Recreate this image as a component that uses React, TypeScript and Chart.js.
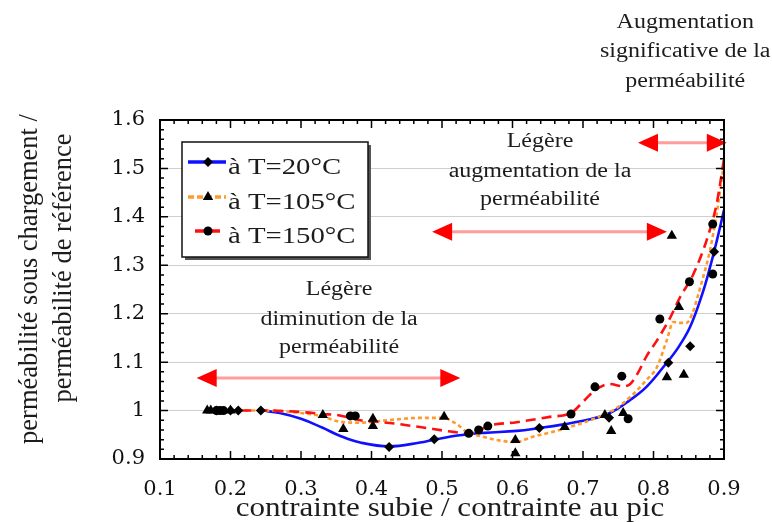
import React, { useEffect, useRef } from "react";
import { Chart, registerables } from "chart.js";

Chart.register(...registerables);

// ---------- data ----------
const xMin = 0.1;
const xMax = 0.9;
const yMin = 0.9;
const yMax = 1.6;
const tickStep = 0.1;
const minorStep = 0.02;

// fitted curves
const curve20X = [0.245, 0.27, 0.3, 0.33, 0.355, 0.384, 0.425, 0.469, 0.489, 0.525, 0.56, 0.606, 0.638, 0.67, 0.71, 0.738, 0.767, 0.79, 0.814, 0.835, 0.852, 0.869, 0.88, 0.889, 0.9];
const curve20Y = [1.0, 0.995, 0.983, 0.965, 0.948, 0.934, 0.926, 0.934, 0.94, 0.949, 0.954, 0.958, 0.964, 0.971, 0.982, 0.995, 1.022, 1.049, 1.09, 1.13, 1.173, 1.24, 1.295, 1.346, 1.414];

const curve105X = [0.17, 0.25, 0.3, 0.33, 0.355, 0.384, 0.422, 0.469, 0.501, 0.521, 0.535, 0.558, 0.582, 0.604, 0.629, 0.657, 0.69, 0.71, 0.743, 0.767, 0.79, 0.805, 0.819, 0.828, 0.838, 0.847, 0.855, 0.862, 0.869, 0.88, 0.89, 0.9];
const curve105Y = [1.0, 1.0, 0.995, 0.988, 0.977, 0.975, 0.98, 0.985, 0.985, 0.972, 0.956, 0.946, 0.938, 0.935, 0.946, 0.956, 0.97, 0.98, 1.001, 1.028, 1.063, 1.09, 1.146, 1.183, 1.181, 1.181, 1.2, 1.232, 1.268, 1.33, 1.41, 1.51];

const curve150X = [0.17, 0.25, 0.3, 0.331, 0.355, 0.384, 0.422, 0.469, 0.516, 0.54, 0.552, 0.565, 0.606, 0.653, 0.683, 0.7, 0.717, 0.738, 0.757, 0.767, 0.778, 0.79, 0.805, 0.823, 0.838, 0.856, 0.877, 0.89, 0.9];
const curve150Y = [1.0, 1.0, 0.997, 0.993, 0.99, 0.98, 0.975, 0.966, 0.956, 0.953, 0.958, 0.968, 0.976, 0.987, 0.995, 1.018, 1.042, 1.055, 1.05, 1.055, 1.078, 1.112, 1.145, 1.19, 1.235, 1.28, 1.359, 1.43, 1.52];

// measured points
const pts20X = [0.18, 0.2, 0.211, 0.243, 0.425, 0.489, 0.638, 0.737, 0.821, 0.852, 0.886];
const pts20Y = [1.0, 1.0, 1.0, 1.0, 0.925, 0.941, 0.964, 0.985, 1.099, 1.133, 1.328];

const pts105X = [0.167, 0.172, 0.2, 0.331, 0.36, 0.402, 0.402, 0.503, 0.604, 0.604, 0.674, 0.731, 0.74, 0.757, 0.819, 0.843, 0.826, 0.836];
const pts105Y = [1.0, 1.0, 1.0, 0.991, 0.962, 0.983, 0.968, 0.987, 0.939, 0.912, 0.966, 0.991, 0.958, 0.995, 1.069, 1.074, 1.361, 1.214];

const pts150X = [0.18, 0.185, 0.19, 0.37, 0.377, 0.538, 0.552, 0.565, 0.683, 0.717, 0.755, 0.764, 0.809, 0.851, 0.884, 0.884];
const pts150Y = [1.0, 1.0, 1.0, 0.989, 0.989, 0.953, 0.96, 0.968, 0.993, 1.049, 1.071, 0.983, 1.189, 1.266, 1.282, 1.385];

// legend
const legendLabels = ["à T=20°C", "à T=105°C", "à T=150°C"];

// annotations (double arrows + notes)
const arrowY = [1.067, 1.369, 1.553];
const arrowX1 = [0.152, 0.486, 0.778];
const arrowX2 = [0.526, 0.819, 0.904];

const note1Lines = ["Légère", "diminution de la", "perméabilité"];
const note1X = 0.354;
const note1Y = [1.249, 1.187, 1.129];
const note2Lines = ["Légère", "augmentation de la", "perméabilité"];
const note2X = 0.639;
const note2Y = [1.555, 1.493, 1.435];
const note3Lines = ["Augmentation", "significative de la", "perméabilité"];
const note3X = 0.845;
const note3Y = [1.8, 1.74, 1.679];

const xTitle = "contrainte subie / contrainte au pic";
const yTitle1 = "perméabilité sous chargement /";
const yTitle2 = "perméabilité de référence";

// ---------- styles ----------
const SERIF = '"Liberation Serif", "Times New Roman", serif';
const TICK_FONT = '"DejaVu Serif", serif';
const BLUE = "#1010ff";
const ORANGE = "#ff9a2e";
const RED = "#ff1010";
const TEXT = "#1c1c1c";

const zip = (xs: number[], ys: number[]) => xs.map((x, i) => ({ x, y: ys[i] }));

function stretchText(ctx: CanvasRenderingContext2D, text: string, x: number, y: number, size: number, sx: number, align: CanvasTextAlign = "center") {
  ctx.save();
  ctx.font = `${size}px ${SERIF}`;
  ctx.fillStyle = TEXT;
  ctx.translate(x, y);
  ctx.scale(sx, 1);
  ctx.textAlign = align;
  ctx.textBaseline = "middle";
  ctx.fillText(text, 0, 0);
  ctx.restore();
}

function drawMarker(ctx: CanvasRenderingContext2D, style: string, x: number, y: number, r: number) {
  ctx.save();
  ctx.fillStyle = "#000";
  ctx.beginPath();
  if (style === "rectRot") {
    ctx.moveTo(x, y - r);
    ctx.lineTo(x + r, y);
    ctx.lineTo(x, y + r);
    ctx.lineTo(x - r, y);
  } else if (style === "triangle") {
    let a = 0;
    ctx.moveTo(x + Math.sin(a) * r, y - Math.cos(a) * r);
    a += (2 * Math.PI) / 3;
    ctx.lineTo(x + Math.sin(a) * r, y - Math.cos(a) * r);
    a += (2 * Math.PI) / 3;
    ctx.lineTo(x + Math.sin(a) * r, y - Math.cos(a) * r);
  } else {
    ctx.arc(x, y, r, 0, Math.PI * 2);
  }
  ctx.closePath();
  ctx.fill();
  ctx.restore();
}

function drawArrow(ctx: CanvasRenderingContext2D, x1: number, x2: number, y: number) {
  const hl = 20;
  const hh = 9;
  ctx.save();
  ctx.strokeStyle = "#ff9c9c";
  ctx.lineWidth = 3;
  ctx.beginPath();
  ctx.moveTo(x1 + hl - 2, y);
  ctx.lineTo(x2 - hl + 2, y);
  ctx.stroke();
  ctx.fillStyle = "#ff0000";
  ctx.beginPath();
  ctx.moveTo(x1, y);
  ctx.lineTo(x1 + hl, y - hh);
  ctx.lineTo(x1 + hl, y + hh);
  ctx.closePath();
  ctx.fill();
  ctx.beginPath();
  ctx.moveTo(x2, y);
  ctx.lineTo(x2 - hl, y - hh);
  ctx.lineTo(x2 - hl, y + hh);
  ctx.closePath();
  ctx.fill();
  ctx.restore();
}

const decorPlugin = {
  id: "decor",
  beforeDatasetsDraw(chart: any) {
    const ctx: CanvasRenderingContext2D = chart.ctx;
    const xs = chart.scales.x;
    const ys = chart.scales.y;
    for (let i = 0; i < arrowY.length; i++) {
      drawArrow(ctx, xs.getPixelForValue(arrowX1[i]), xs.getPixelForValue(arrowX2[i]), ys.getPixelForValue(arrowY[i]));
    }
    note1Lines.forEach((t, i) => stretchText(ctx, t, xs.getPixelForValue(note1X), ys.getPixelForValue(note1Y[i]), 20, 1.2));
    note2Lines.forEach((t, i) => stretchText(ctx, t, xs.getPixelForValue(note2X), ys.getPixelForValue(note2Y[i]), 20, 1.2));
  },
  afterDraw(chart: any) {
    const ctx: CanvasRenderingContext2D = chart.ctx;
    const xs = chart.scales.x;
    const ys = chart.scales.y;
    const { left, right, top, bottom } = chart.chartArea;

    // notes above plot
    note3Lines.forEach((t, i) => stretchText(ctx, t, xs.getPixelForValue(note3X), ys.getPixelForValue(note3Y[i]), 20, 1.2));

    // frame
    ctx.save();
    ctx.strokeStyle = "#000";
    ctx.lineWidth = 2;
    ctx.strokeRect(left, top, right - left, bottom - top);

    // inward ticks
    ctx.lineWidth = 1.5;
    ctx.beginPath();
    const nx = Math.round((xMax - xMin) / minorStep);
    for (let i = 0; i <= nx; i++) {
      const v = xMin + i * minorStep;
      const px = xs.getPixelForValue(v);
      const len = i % 5 === 0 ? 8 : 4;
      ctx.moveTo(px, bottom);
      ctx.lineTo(px, bottom - len);
      ctx.moveTo(px, top);
      ctx.lineTo(px, top + len);
    }
    const ny = Math.round((yMax - yMin) / minorStep);
    for (let i = 0; i <= ny; i++) {
      const v = yMin + i * minorStep;
      const py = ys.getPixelForValue(v);
      const len = i % 5 === 0 ? 8 : 4;
      ctx.moveTo(left, py);
      ctx.lineTo(left + len, py);
      ctx.moveTo(right, py);
      ctx.lineTo(right - len, py);
    }
    ctx.stroke();
    ctx.restore();

    // legend
    const lx = left + 22;
    const ly = top + 22;
    const lw = 186;
    const lh = 115;
    ctx.save();
    ctx.fillStyle = "#555";
    ctx.fillRect(lx + 3, ly + 3, lw, lh);
    ctx.fillStyle = "#fff";
    ctx.fillRect(lx, ly, lw, lh);
    ctx.strokeStyle = "#111";
    ctx.lineWidth = 1.5;
    ctx.strokeRect(lx, ly, lw, lh);
    const rows = [20, 55, 89];
    const colors = [BLUE, ORANGE, RED];
    const dashes = [[], [6, 3], [10, 5]];
    const styles = ["rectRot", "triangle", "circle"];
    const radii = [5, 6, 4.5];
    const starts = [6, 6, 13];
    const ends = [44, 44, 40];
    for (let i = 0; i < 3; i++) {
      const yy = ly + rows[i];
      ctx.save();
      ctx.strokeStyle = colors[i];
      ctx.lineWidth = 3.5;
      ctx.setLineDash(dashes[i]);
      ctx.beginPath();
      ctx.moveTo(lx + starts[i], yy);
      ctx.lineTo(lx + ends[i], yy);
      ctx.stroke();
      ctx.restore();
      drawMarker(ctx, styles[i], lx + 26, yy, radii[i]);
      stretchText(ctx, legendLabels[i], lx + 46, yy + 6, 23, 1.25, "left");
    }
    ctx.restore();

    // axis titles
    stretchText(ctx, xTitle, 450, bottom + 50, 27, 1.15);
    ctx.save();
    ctx.font = `26.5px ${SERIF}`;
    ctx.fillStyle = TEXT;
    ctx.textAlign = "center";
    ctx.textBaseline = "middle";
    ctx.translate(30, 279);
    ctx.rotate(-Math.PI / 2);
    ctx.fillText(yTitle1, 0, 0);
    ctx.restore();
    ctx.save();
    ctx.font = `26.5px ${SERIF}`;
    ctx.fillStyle = TEXT;
    ctx.textAlign = "center";
    ctx.textBaseline = "middle";
    ctx.translate(64, 268);
    ctx.rotate(-Math.PI / 2);
    ctx.fillText(yTitle2, 0, 0);
    ctx.restore();
  },
};

const fmtTick = (v: any) => String(Math.round(Number(v) * 10) / 10);

export default function App() {
  const ref = useRef<HTMLCanvasElement | null>(null);

  useEffect(() => {
    document.body.style.margin = "0";
    const canvas = ref.current;
    if (!canvas) return;
    const chart = new Chart(canvas, {
      type: "scatter",
      data: {
        datasets: [
          { label: "p20", data: zip(pts20X, pts20Y), pointStyle: "rectRot", pointRadius: 5, backgroundColor: "#000", borderColor: "#000", borderWidth: 0, showLine: false, order: 0 },
          { label: "p105", data: zip(pts105X, pts105Y), pointStyle: "triangle", pointRadius: 6, backgroundColor: "#000", borderColor: "#000", borderWidth: 0, showLine: false, order: 0 },
          { label: "p150", data: zip(pts150X, pts150Y), pointStyle: "circle", pointRadius: 4.5, backgroundColor: "#000", borderColor: "#000", borderWidth: 0, showLine: false, order: 0 },
          { label: "à T=150°C", data: zip(curve150X, curve150Y), showLine: true, borderColor: RED, borderWidth: 2.6, borderDash: [10, 6], pointRadius: 0, tension: 0.4, cubicInterpolationMode: "monotone", order: 1 },
          { label: "à T=105°C", data: zip(curve105X, curve105Y), showLine: true, borderColor: ORANGE, borderWidth: 2.6, borderDash: [4, 3], pointRadius: 0, tension: 0.4, cubicInterpolationMode: "monotone", order: 2 },
          { label: "à T=20°C", data: zip(curve20X, curve20Y), showLine: true, borderColor: BLUE, borderWidth: 2.6, pointRadius: 0, tension: 0.4, order: 3 },
        ],
      } as any,
      options: {
        responsive: false,
        animation: false,
        devicePixelRatio: 1,
        layout: { padding: { top: 120, right: 48, left: 0, bottom: 0 } },
        plugins: { legend: { display: false }, tooltip: { enabled: false } },
        scales: {
          x: {
            type: "linear",
            min: xMin,
            max: xMax,
            grid: { display: false, drawTicks: false },
            border: { display: false },
            ticks: { stepSize: tickStep, padding: 18, autoSkip: false, maxRotation: 0, color: "#111", font: { family: TICK_FONT, size: 21 }, callback: fmtTick },
            afterFit: (s: any) => { s.height = 63; },
          },
          y: {
            type: "linear",
            min: yMin,
            max: yMax,
            grid: { color: "#cfcfcf", lineWidth: 1, drawTicks: false },
            border: { display: false },
            ticks: { stepSize: tickStep, padding: 15, color: "#111", font: { family: TICK_FONT, size: 21 }, callback: fmtTick },
            afterFit: (s: any) => { s.width = 160; },
          },
        },
      } as any,
      plugins: [decorPlugin],
    });
    return () => chart.destroy();
  }, []);

  return (
    <div style={{ position: "absolute", left: 0, top: 0, width: 772, height: 522, background: "#fff" }}>
      <canvas ref={ref} width={772} height={522} />
    </div>
  );
}
